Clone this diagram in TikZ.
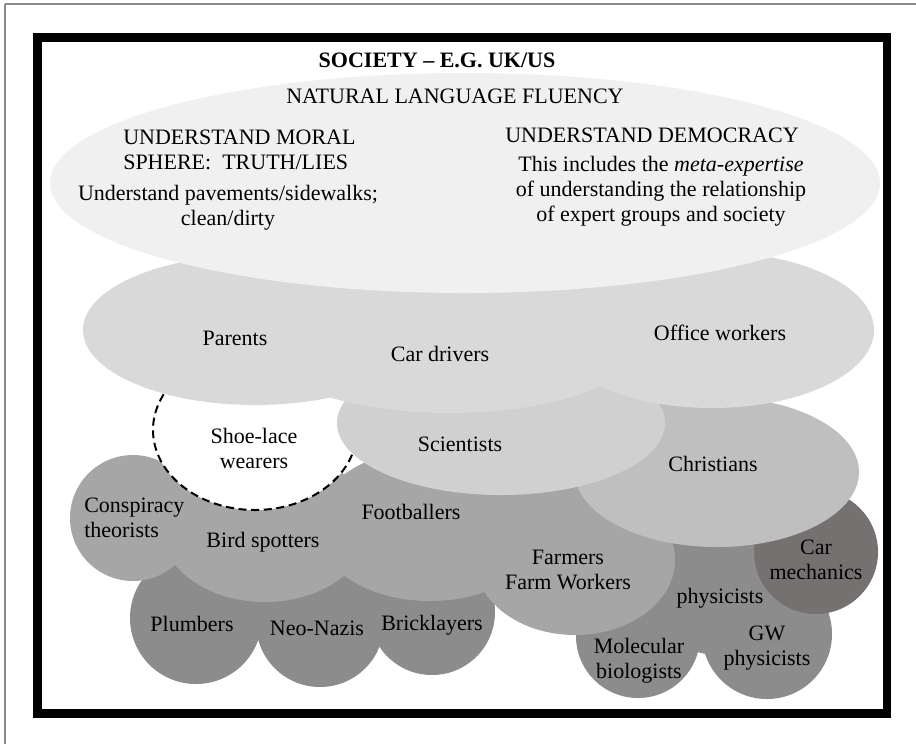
\documentclass[tikz,border=0pt]{standalone}
\usepackage{fontspec}
\setmainfont{Liberation Serif}

% grey levels of the layers, lightest on top
\definecolor{fluencygrey}{HTML}{F0F0F0}
\definecolor{everydaygrey}{HTML}{D9D9D9}
\definecolor{scigrey}{HTML}{D0D0D0}
\definecolor{christgrey}{HTML}{BFBFBF}
\definecolor{hobbygrey}{HTML}{A6A6A6}
\definecolor{tradegrey}{HTML}{8C8C8C}
\definecolor{mechgrey}{HTML}{757171}
\definecolor{edgegrey}{HTML}{8A8A8A}

\begin{document}
\begin{tikzpicture}[
  x=0.75pt, y=-0.75pt,
  lbl/.style={font=\fontsize{16.5}{18.75}\selectfont, align=center, inner sep=0pt},
  frame/.style={draw=black, line width=6.4pt},
  dashring/.style={draw=black, line width=1.5pt, dash pattern=on 6pt off 3.5pt}
]
\useasboundingbox (0,0) rectangle (916,744);

% thin page edge
\draw[edgegrey, line width=1.2pt] (5,4) -- (916,4);
\draw[edgegrey, line width=1.2pt] (5,4) -- (5,744);

% physicists cluster
\fill[tradegrey] (718,585) circle [radius=70];
\fill[tradegrey] (638,636) circle [radius=62];
\fill[tradegrey] (767,634) circle [radius=65];
\fill[mechgrey] (816,552) circle [radius=62];

% trades row
\fill[tradegrey] (196,618) circle [radius=66];
\fill[tradegrey] (320,623) circle [radius=64];
\fill[tradegrey] (432,612) circle [radius=63];

% hobbies row, farmers included
\fill[hobbygrey] (133,518) circle [radius=63];
\fill[hobbygrey] (265,525) ellipse [x radius=105, y radius=77];
\fill[hobbygrey] (430,525) ellipse [x radius=115, y radius=76];
\fill[hobbygrey] (575,560) ellipse [x radius=100, y radius=75];

% shoe-lace wearers
\fill[white] (255,430) ellipse [x radius=102, y radius=80];
\draw[dashring] (255,430) ellipse [x radius=102, y radius=80];

% christians and scientists
\fill[christgrey] (717,472) ellipse [x radius=142, y radius=75];
\fill[scigrey] (501,423) ellipse [x radius=164, y radius=72];

% everyday groups
\fill[everydaygrey] (255,330) ellipse [x radius=172, y radius=75];
\fill[everydaygrey] (450,335) ellipse [x radius=200, y radius=78];
\fill[everydaygrey] (712,330) ellipse [x radius=162, y radius=78];

% natural language fluency
\fill[fluencygrey] (465,183) ellipse [x radius=415, y radius=110];

% outer box
\draw[frame] (37.5,37.5) rectangle (887,713.5);

% labels
\node[lbl, font=\fontsize{16.5}{18.75}\selectfont\bfseries] (society) at (437,60) {SOCIETY -- E.G. UK/US};
\node[lbl] (fluency) at (455,96) {NATURAL LANGUAGE FLUENCY};
\node[lbl, anchor=west, align=left] (moral) at (123,150) {UNDERSTAND MORAL\\SPHERE:\ \ TRUTH/LIES};
\node[lbl] (pavements) at (228,208) {Understand pavements/sidewalks;\\clean/dirty};
\node[lbl] (democracy) at (652,135) {UNDERSTAND DEMOCRACY};
\node[lbl] (metaexp) at (661,191) {This includes the \emph{meta-expertise}\\of understanding the relationship\\of expert groups and society};

\node[lbl] (parents) at (235,338) {Parents};
\node[lbl] (drivers) at (440,354) {Car drivers};
\node[lbl] (office) at (720,333) {Office workers};
\node[lbl] (shoelace) at (254,448) {Shoe-lace\\wearers};
\node[lbl] (scientists) at (460,444) {Scientists};
\node[lbl] (christians) at (713,464) {Christians};
\node[lbl, anchor=west, align=left] (conspiracy) at (84,518) {Conspiracy\\theorists};
\node[lbl] (birds) at (263,542) {Bird spotters};
\node[lbl] (football) at (411,512) {Footballers};
\node[lbl] (farmers) at (568,570) {Farmers\\Farm Workers};
\node[lbl] (plumbers) at (192,624) {Plumbers};
\node[lbl] (neonazis) at (317,628) {Neo-Nazis};
\node[lbl] (bricks) at (432,625) {Bricklayers};
\node[lbl] (mechanics) at (816,560) {Car\\mechanics};
\node[lbl] (physicists) at (720,598) {physicists};
\node[lbl] (molbio) at (639,661) {Molecular\\biologists};
\node[lbl] (gwphys) at (767,648) {GW\\physicists};

\end{tikzpicture}
\end{document}
